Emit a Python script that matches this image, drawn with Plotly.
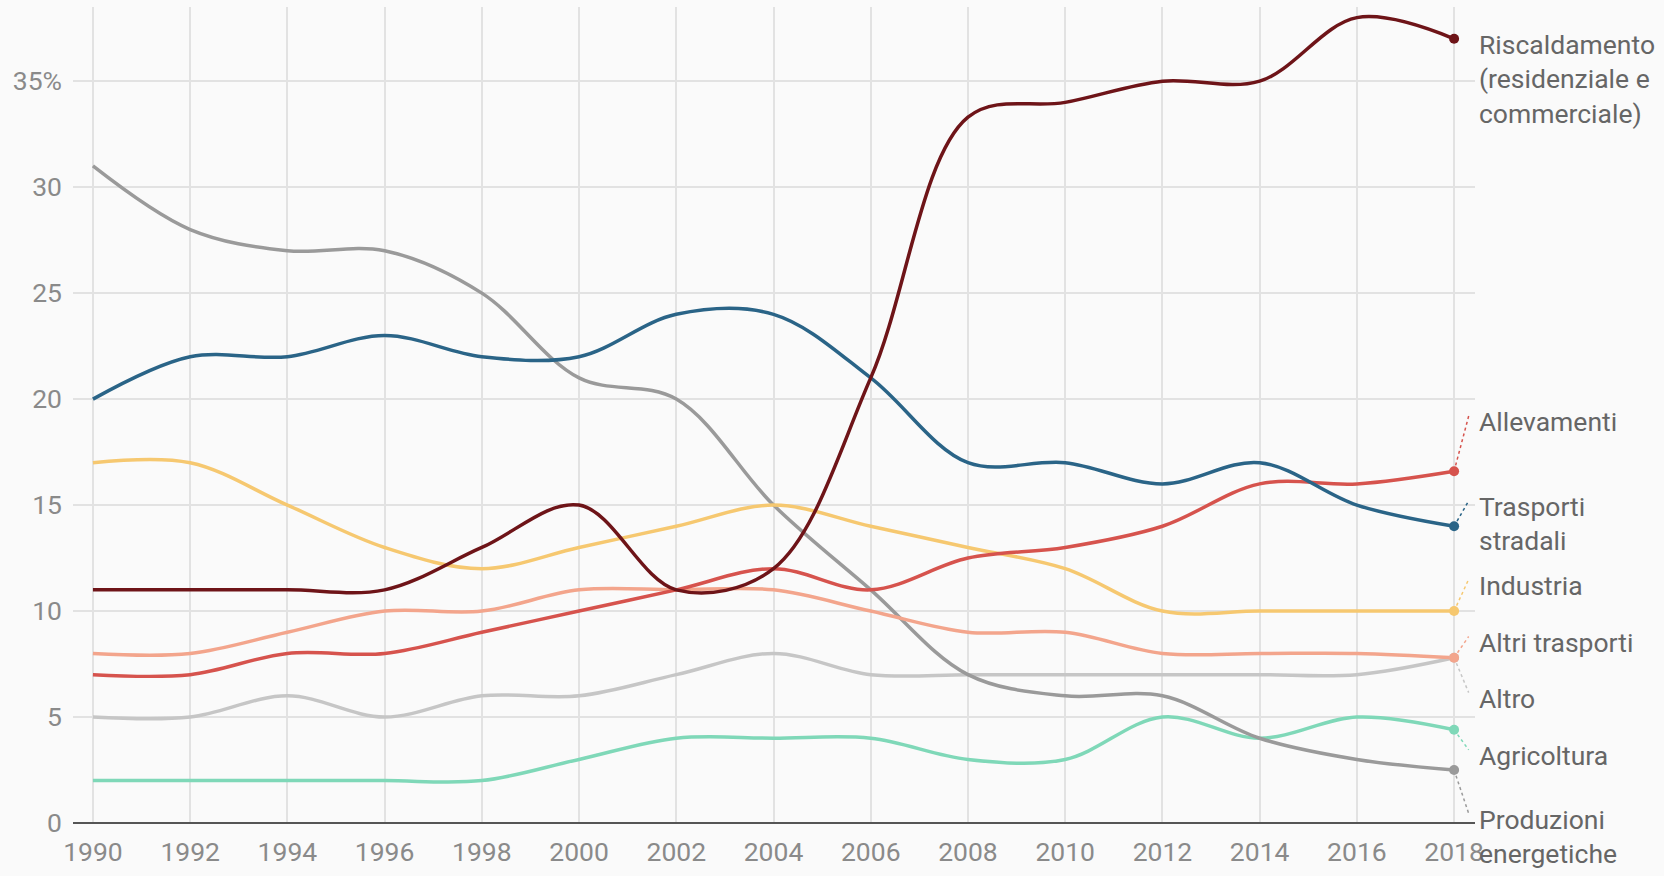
import plotly.graph_objects as go

years = list(range(1990, 2019, 2))

riscaldamento = [11, 11, 11, 11, 13, 15, 11, 12, 21, 33.3, 34, 35, 35, 38, 37]
trasporti_stradali = [20, 22, 22, 23, 22, 22, 24, 24, 21, 17, 17, 16, 17, 15, 14]
produzioni_energetiche = [31, 28, 27, 27, 25, 21, 20, 15, 11, 7, 6, 6, 4, 3, 2.5]
industria = [17, 17, 15, 13, 12, 13, 14, 15, 14, 13, 12, 10, 10, 10, 10]
allevamenti = [7, 7, 8, 8, 9, 10, 11, 12, 11, 12.5, 13, 14, 16, 16, 16.6]
altri_trasporti = [8, 8, 9, 10, 10, 11, 11, 11, 10, 9, 9, 8, 8, 8, 7.8]
altro = [5, 5, 6, 5, 6, 6, 7, 8, 7, 7, 7, 7, 7, 7, 7.8]
agricoltura = [2, 2, 2, 2, 2, 3, 4, 4, 4, 3, 3, 5, 4, 5, 4.4]

series_names = [
    "Altro", "Agricoltura", "Produzioni energetiche", "Altri trasporti",
    "Industria", "Allevamenti", "Trasporti stradali", "Riscaldamento",
]
series_values = [
    altro, agricoltura, produzioni_energetiche, altri_trasporti,
    industria, allevamenti, trasporti_stradali, riscaldamento,
]
series_labels = [
    "Altro", "Agricoltura", "Produzioni<br>energetiche", "Altri trasporti",
    "Industria", "Allevamenti", "Trasporti<br>stradali",
    "Riscaldamento<br>(residenziale e<br>commerciale)",
]

# layout: colours and label placement (top of label block, in axis units)
colors = ["#c6c6c6", "#7fd8b8", "#9a9a9a", "#f3a58c",
          "#f6c870", "#d6534d", "#2a6487", "#6e1418"]
label_top = [6.7, 4.0, 1.0, 9.35, 12.05, 19.75, 15.75, 37.55]
show_leader = [True, True, True, True, True, True, True, False]

y_ticks = [0, 5, 10, 15, 20, 25, 30, 35]
y_tick_text = ["0", "5", "10", "15", "20", "25", "30", "35%"]

x_range = [1989.59, 2018.43]
label_x = 2018.47
label_x_paper = (label_x - x_range[0]) / (x_range[1] - x_range[0])

fig = go.Figure()
for name, vals, col in zip(series_names, series_values, colors):
    fig.add_trace(go.Scatter(
        x=years, y=vals, mode="lines", name=name,
        line=dict(color=col, width=3.5, shape="spline"),
        hoverinfo="x+y+name",
    ))

last_year = years[-1]
for vals, col, ly, sl in zip(series_values, colors, label_top, show_leader):
    if sl:
        fig.add_trace(go.Scatter(
            x=[last_year, last_year + 0.3], y=[vals[-1], ly - 0.55],
            mode="lines", line=dict(color=col, width=1.5, dash="dot"),
            hoverinfo="skip",
        ))
for name, vals, col, lab, ly in zip(series_names, series_values, colors, series_labels, label_top):
    fig.add_trace(go.Scatter(
        x=[last_year], y=[vals[-1]], mode="markers",
        marker=dict(color=col, size=10), hoverinfo="skip", cliponaxis=False,
    ))
    fig.add_annotation(
        x=label_x_paper, y=ly, xref="paper", yref="y",
        text=lab, showarrow=False, xanchor="left", yanchor="top",
        align="left", font=dict(family="Roboto", size=26.5, color="#666666"),
    )

fig.update_layout(
    width=1664, height=876,
    margin=dict(l=73, r=189, t=7, b=53),
    paper_bgcolor="#fafafa", plot_bgcolor="#fafafa",
    showlegend=False,
    font=dict(family="Roboto", size=26.5, color="#8a8a8a"),
    xaxis=dict(
        range=x_range, tickmode="array", tickvals=years,
        ticktext=[str(y) for y in years],
        showgrid=True, gridcolor="#e2e2e2", gridwidth=1.5,
        zeroline=False, showline=False, ticks="",
        ticklabelstandoff=10,
        tickfont=dict(family="Roboto", size=26.5, color="#8a8a8a"),
    ),
    yaxis=dict(
        range=[0, 38.5], tickmode="array", tickvals=y_ticks, ticktext=y_tick_text,
        showgrid=True, gridcolor="#e2e2e2", gridwidth=1.5,
        zeroline=True, zerolinecolor="#555555", zerolinewidth=2,
        showline=False, ticks="", ticklabelstandoff=10,
        tickfont=dict(family="Roboto", size=26.5, color="#8a8a8a"),
    ),
)

fig.write_html("out.html")
